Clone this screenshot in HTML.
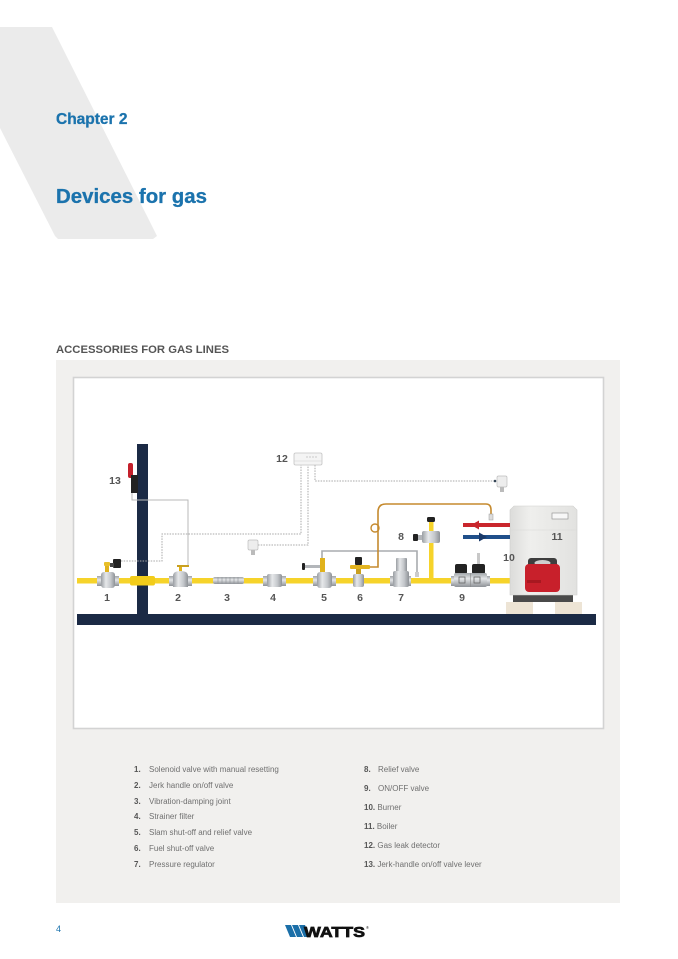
<!DOCTYPE html>
<html><head><meta charset="utf-8">
<style>
html,body{margin:0;padding:0;background:#fff;}
svg{display:block;}
text{font-family:"Liberation Sans",Arial,sans-serif;}
</style></head>
<body>
<svg width="678" height="959" viewBox="0 0 678 959" xmlns="http://www.w3.org/2000/svg">
<defs>
<linearGradient id="met" x1="0" y1="0" x2="1" y2="0">
<stop offset="0" stop-color="#9a9ea3"/><stop offset="0.35" stop-color="#e6e8ea"/><stop offset="0.7" stop-color="#c4c7cb"/><stop offset="1" stop-color="#8e9297"/>
</linearGradient>
<linearGradient id="metv" x1="0" y1="0" x2="0" y2="1">
<stop offset="0" stop-color="#a0a4a8"/><stop offset="0.4" stop-color="#e4e6e8"/><stop offset="1" stop-color="#8e9297"/>
</linearGradient>
<linearGradient id="boil" x1="0" y1="0" x2="1" y2="0">
<stop offset="0" stop-color="#dcdcda"/><stop offset="0.3" stop-color="#efefed"/><stop offset="1" stop-color="#e2e2e0"/>
</linearGradient>
</defs>

<!-- background parallelogram -->
<polygon points="0,27 52,27 157,236 153,239 58,239 55,236 0,128" fill="#ebebeb"/>

<text x="56" y="124" font-size="15.5" font-weight="bold" fill="#1b73ad" stroke="#1b73ad" stroke-width="0.3">Chapter 2</text>
<text x="56" y="203" font-size="20" font-weight="bold" fill="#1b73ad" stroke="#1b73ad" stroke-width="0.3" textLength="151" lengthAdjust="spacingAndGlyphs">Devices for gas</text>

<text x="56" y="353" font-size="11" font-weight="bold" fill="#555" textLength="173" lengthAdjust="spacingAndGlyphs">ACCESSORIES FOR GAS LINES</text>

<!-- grey panel -->
<rect x="56" y="360" width="564" height="543" fill="#f1f0ee"/>
<rect x="73.5" y="377.5" width="530" height="351" fill="#fff" stroke="#d3d3d3" stroke-width="1.6"/>

<!-- wall + floor -->
<rect x="137" y="444" width="11" height="176" fill="#1b2a45"/>
<rect x="77" y="614" width="519" height="11" fill="#1b2a45"/>

<!-- control lines grey solid (13 -> 2) -->
<polyline points="132,493 132,500 188,500 188,566" fill="none" stroke="#b9b9b9" stroke-width="1"/>
<!-- impulse line grey -->
<polyline points="322,560 322,551 417,551 417,573" fill="none" stroke="#a8abaf" stroke-width="1.6"/>
<!-- dotted lines -->
<g fill="none" stroke="#a8a8a8" stroke-width="1" stroke-dasharray="1.5,1.2">
<polyline points="121,561 162,561 162,534 301,534 301,465"/>
<polyline points="258,545 308,545 308,465"/>
<polyline points="315,465 315,481 495,481"/>
</g>
<circle cx="495" cy="481" r="1.3" fill="#345"/>

<!-- orange line -->
<path d="M370,567 L378,567 L378,512 Q378,504 386,504 L486,504 Q491,504 491,510 L491,519" fill="none" stroke="#c58a2e" stroke-width="1.6"/>
<circle cx="375" cy="528" r="4" fill="none" stroke="#c58a2e" stroke-width="1.4"/>
<rect x="489" y="514" width="4" height="6" fill="#ddd" stroke="#999" stroke-width="0.5"/>

<!-- main yellow pipe -->
<rect x="77" y="578" width="450" height="5.5" fill="#f6d32a"/>
<rect x="130" y="576" width="25" height="9.5" rx="2" fill="#f2cc1a"/>
<!-- relief line vertical to 8 -->
<rect x="429" y="521" width="4.5" height="60" fill="#f6d32a"/>

<!-- valve 1 -->
<rect x="105" y="564" width="4" height="9" fill="#e0b21c"/>
<rect x="104" y="562" width="6" height="4" rx="1" fill="#e8bf2a"/>
<rect x="113" y="559" width="8" height="9" rx="1" fill="#222"/>
<rect x="110" y="563" width="4" height="4" fill="#444"/>
<rect x="97" y="576" width="5" height="10" fill="url(#metv)"/>
<rect x="114" y="576" width="5" height="10" fill="url(#metv)"/>
<rect x="101" y="572" width="14" height="16" rx="3" fill="url(#met)"/>

<!-- valve 2 -->
<rect x="179" y="566" width="3" height="7" fill="#e0b21c"/>
<rect x="177" y="565" width="12" height="2" fill="#c9a020"/>
<rect x="169" y="576" width="5" height="10" fill="url(#metv)"/>
<rect x="187" y="576" width="5" height="10" fill="url(#metv)"/>
<path d="M173,576 Q173,571 180.5,571 Q188,571 188,576 L188,587 L173,587 Z" fill="url(#met)"/>

<!-- 3 joint -->
<rect x="213" y="577" width="31" height="7" rx="2" fill="url(#metv)"/>
<g stroke="#8f9398" stroke-width="0.6">
<line x1="218" y1="577" x2="218" y2="584"/><line x1="222" y1="577" x2="222" y2="584"/><line x1="226" y1="577" x2="226" y2="584"/><line x1="230" y1="577" x2="230" y2="584"/><line x1="234" y1="577" x2="234" y2="584"/><line x1="238" y1="577" x2="238" y2="584"/>
</g>

<!-- valve 4 -->
<rect x="263" y="576" width="5" height="10" fill="url(#metv)"/>
<rect x="281" y="576" width="5" height="10" fill="url(#metv)"/>
<rect x="267" y="574" width="15" height="13" rx="2" fill="url(#met)"/>

<!-- valve 5 -->
<rect x="320" y="558" width="5" height="15" fill="#e0b21c"/>
<rect x="304" y="565" width="16" height="3" fill="#b3b6ba"/>
<rect x="302" y="563" width="3" height="7" rx="1" fill="#222"/>
<rect x="313" y="576" width="5" height="10" fill="url(#metv)"/>
<rect x="331" y="576" width="5" height="10" fill="url(#metv)"/>
<rect x="317" y="572" width="15" height="16" rx="3" fill="url(#met)"/>

<!-- valve 6 -->
<rect x="355" y="557" width="7" height="8" rx="1" fill="#222"/>
<rect x="350" y="565" width="20" height="4" rx="1" fill="#e3b420"/>
<rect x="356" y="569" width="5" height="5" fill="#c9a020"/>
<rect x="353" y="574" width="11" height="13" rx="2" fill="url(#met)"/>

<!-- valve 7 -->
<rect x="396" y="558" width="11" height="14" rx="1" fill="url(#met)"/>
<rect x="390" y="576" width="5" height="10" fill="url(#metv)"/>
<rect x="406" y="576" width="5" height="10" fill="url(#metv)"/>
<rect x="393" y="571" width="16" height="16" rx="2" fill="url(#met)"/>
<rect x="415" y="572" width="4" height="5" fill="#ccc"/>

<!-- valve 8 -->
<rect x="427" y="517" width="8" height="5" rx="1.5" fill="#222"/>
<rect x="417" y="535" width="6" height="5" fill="#b3b6ba"/>
<rect x="413" y="534" width="5" height="7" rx="1" fill="#222"/>
<rect x="422" y="531" width="18" height="12" rx="2" fill="url(#met)"/>

<!-- valve 9 -->
<rect x="477" y="553" width="3" height="11" fill="#c8c8c8"/>
<rect x="455" y="564" width="12" height="10" rx="2" fill="#222"/>
<rect x="472" y="564" width="13" height="10" rx="2" fill="#222"/>
<rect x="451" y="576" width="4" height="10" fill="url(#metv)"/>
<rect x="486" y="576" width="4" height="10" fill="url(#metv)"/>
<rect x="454" y="573" width="33" height="14" rx="2" fill="url(#metv)"/>
<rect x="459" y="577" width="6" height="6" fill="none" stroke="#666" stroke-width="0.8"/>
<rect x="474" y="577" width="6" height="6" fill="none" stroke="#666" stroke-width="0.8"/>
<line x1="470.5" y1="573" x2="470.5" y2="587" stroke="#888" stroke-width="0.6"/>

<!-- boiler -->
<rect x="506" y="602" width="27" height="12" fill="#ede4d5"/>
<rect x="555" y="602" width="27" height="12" fill="#ede4d5"/>
<rect x="513" y="594" width="60" height="8" fill="#4a4a4a"/>
<path d="M510,510 L514,506 L573,506 L577,510 L577,595 L510,595 Z" fill="url(#boil)" stroke="#cfcfcd" stroke-width="0.6"/>
<line x1="510" y1="530" x2="577" y2="530" stroke="#d8d8d6" stroke-width="0.6"/>
<rect x="552" y="513" width="16" height="6" fill="#f7f7f7" stroke="#8a8a8a" stroke-width="0.6"/>
<!-- burner -->
<rect x="528" y="558" width="29" height="13" rx="3" fill="#3e3e3e"/>
<ellipse cx="542.5" cy="563" rx="8" ry="3" fill="#cfcfcf"/>
<rect x="525" y="564" width="35" height="28" rx="4" fill="#c8202b"/>
<rect x="527" y="580" width="14" height="3" fill="#a81820"/>

<!-- red and blue pipes -->
<rect x="463" y="523" width="47" height="4" fill="#c9262c"/>
<polygon points="471,525 479,520.5 479,529.5" fill="#c9262c"/>
<rect x="463" y="535" width="47" height="4" fill="#1f4f8a"/>
<polygon points="487,537 479,532.5 479,541.5" fill="#1a3a6a"/>

<!-- 12 detector -->
<rect x="294" y="453" width="28" height="12" rx="1.5" fill="#f4f4f4" stroke="#c4c4c4" stroke-width="0.8"/>
<line x1="294" y1="461" x2="322" y2="461" stroke="#cfcfcf" stroke-width="0.6"/>
<g fill="#aaa"><circle cx="307" cy="457" r="0.6"/><circle cx="310" cy="457" r="0.6"/><circle cx="313" cy="457" r="0.6"/><circle cx="316" cy="457" r="0.6"/></g>

<!-- sensors -->
<rect x="248" y="540" width="10" height="10" rx="1.5" fill="#ededed" stroke="#bdbdbd" stroke-width="0.7"/>
<rect x="251" y="550" width="4" height="5" fill="#bbb"/>
<rect x="497" y="476" width="10" height="11" rx="1.5" fill="#ededed" stroke="#bdbdbd" stroke-width="0.7"/>
<rect x="500" y="487" width="4" height="5" fill="#bbb"/>

<!-- 13 lever -->
<rect x="128" y="463" width="5" height="15" rx="2" fill="#c4202b"/>
<rect x="131" y="475" width="7" height="18" fill="#222"/>

<!-- labels -->
<g font-size="10.5" font-weight="bold" fill="#555" text-anchor="middle">
<text x="107" y="601">1</text>
<text x="178" y="601">2</text>
<text x="227" y="601">3</text>
<text x="273" y="601">4</text>
<text x="324" y="601">5</text>
<text x="360" y="601">6</text>
<text x="401" y="601">7</text>
<text x="401" y="540">8</text>
<text x="462" y="601">9</text>
<text x="509" y="561">10</text>
<text x="557" y="540">11</text>
<text x="282" y="462">12</text>
<text x="115" y="484">13</text>
</g>

<!-- legend -->
<g font-size="8" fill="#707070">
<text x="134" y="772"><tspan font-weight="bold" fill="#555">1.</tspan></text><text x="149" y="772">Solenoid valve with manual resetting</text>
<text x="134" y="788"><tspan font-weight="bold" fill="#555">2.</tspan></text><text x="149" y="788">Jerk handle on/off valve</text>
<text x="134" y="804"><tspan font-weight="bold" fill="#555">3.</tspan></text><text x="149" y="804">Vibration-damping joint</text>
<text x="134" y="819"><tspan font-weight="bold" fill="#555">4.</tspan></text><text x="149" y="819">Strainer filter</text>
<text x="134" y="835"><tspan font-weight="bold" fill="#555">5.</tspan></text><text x="149" y="835">Slam shut-off and relief valve</text>
<text x="134" y="851"><tspan font-weight="bold" fill="#555">6.</tspan></text><text x="149" y="851">Fuel shut-off valve</text>
<text x="134" y="867"><tspan font-weight="bold" fill="#555">7.</tspan></text><text x="149" y="867">Pressure regulator</text>

<text x="364" y="772"><tspan font-weight="bold" fill="#555">8.</tspan></text><text x="378" y="772">Relief valve</text>
<text x="364" y="791"><tspan font-weight="bold" fill="#555">9.</tspan></text><text x="378" y="791">ON/OFF valve</text>
<text x="364" y="810"><tspan font-weight="bold" fill="#555">10.</tspan> Burner</text>
<text x="364" y="829"><tspan font-weight="bold" fill="#555">11.</tspan> Boiler</text>
<text x="364" y="848"><tspan font-weight="bold" fill="#555">12.</tspan> Gas leak detector</text>
<text x="364" y="867"><tspan font-weight="bold" fill="#555">13.</tspan> Jerk-handle on/off valve lever</text>
</g>

<!-- footer -->
<text x="56" y="932" font-size="9" fill="#1b73ad">4</text>
<g>
<polygon points="285,925 291,925 296,937 290,937" fill="#1b6fa8"/>
<polygon points="292,925 298,925 303,937 297,937" fill="#1b6fa8"/>
<polygon points="299,925 305,925 310,937 304,937" fill="#1b6fa8"/>
<text x="304" y="937" font-size="15" font-weight="bold" fill="#111" stroke="#111" stroke-width="0.7" textLength="61" lengthAdjust="spacingAndGlyphs">WATTS</text>
<text x="366" y="929" font-size="4" fill="#111">®</text>
</g>
</svg>
</body></html>
